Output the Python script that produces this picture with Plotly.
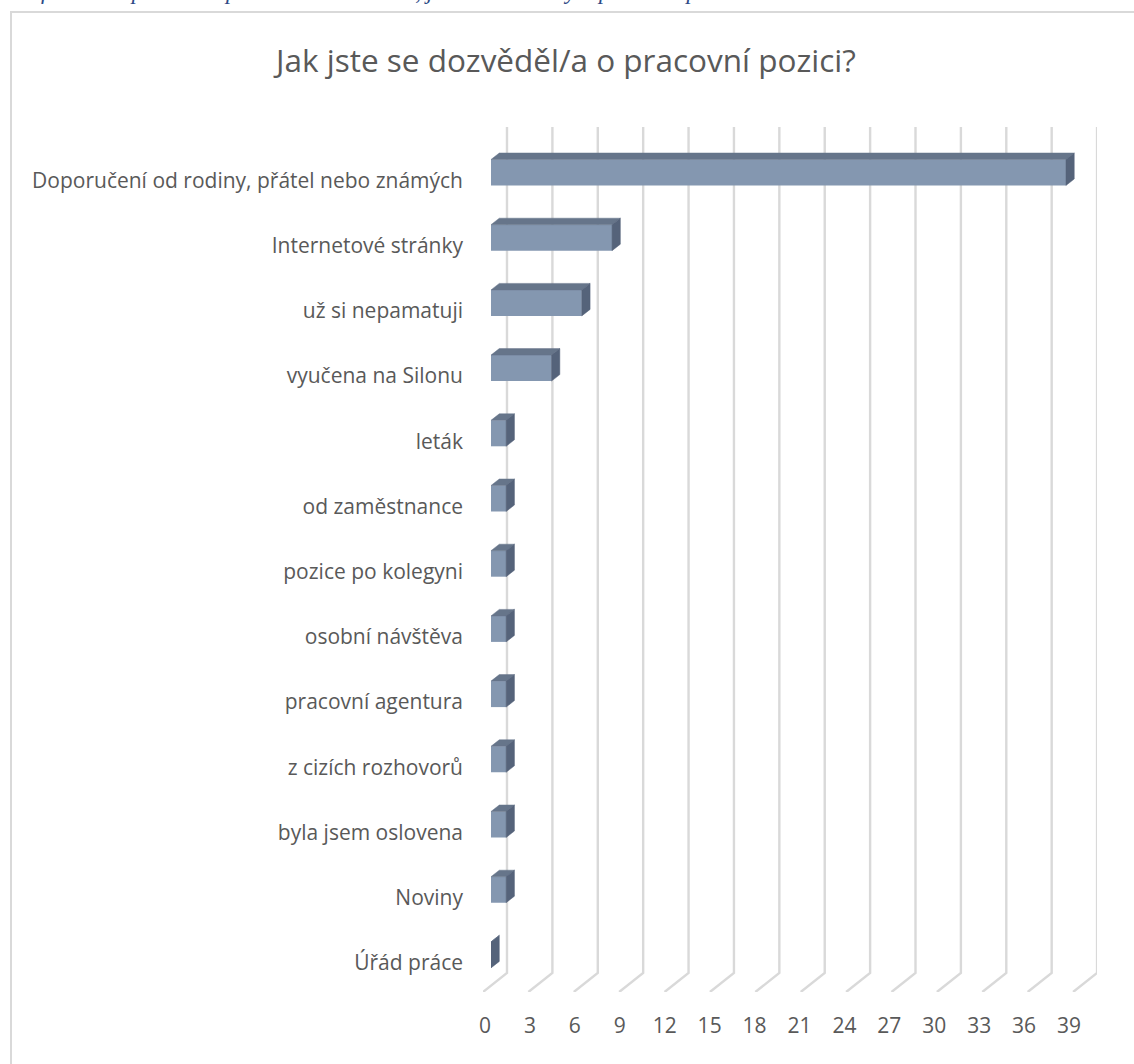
import plotly.graph_objects as go

# ---------------- data ----------------
categories = [
    "Doporučení od rodiny, přátel nebo známých",
    "Internetové stránky",
    "už si nepamatuji",
    "vyučena na Silonu",
    "leták",
    "od zaměstnance",
    "pozice po kolegyni",
    "osobní návštěva",
    "pracovní agentura",
    "z cizích rozhovorů",
    "byla jsem oslovena",
    "Noviny",
    "Úřád práce",
]
values = [38, 8, 6, 4, 1, 1, 1, 1, 1, 1, 1, 1, 0]
tick_values = list(range(0, 40, 3))
tick_labels = [str(t) for t in tick_values]
title_text = "Jak jste se dozvěděl/a o pracovní pozici?"
caption_text = "Graf č. 12 Odpovědi respondentek na otázku, jak se dozvěděly o pracovní pozici"

# ---------------- geometry (pixels) ----------------
W, H = 1134, 1064
XMAX = 39
SCALE = 15.13            # px per unit
BAR_X0 = 491             # front plane of bars
BACK_X0 = 507            # back wall
FLOOR_X0 = 483           # front edge of floor
ROW = 65.2
ROW0 = 172.5             # centre of first row (front face)
LABEL_SHIFT = 8
BACK_BOTTOM = 973
FLOOR_FRONT = 992
WALL_TOP = 127


def px_x(p):
    return p / W


def px_y(p):
    return 1 - p / H


n = len(categories)
rows = list(range(n))
ytop_px = ROW0 - 0.5 * ROW
ybot_px = ROW0 + (n - 0.5) * ROW

fig = go.Figure()

# --- back wall gridlines + floor diagonals (subplot x/y, y in px units) ---
depth_units = (BACK_X0 - FLOOR_X0) / SCALE
gx, gy = [], []
wall_h = BACK_BOTTOM - WALL_TOP
floor_d = FLOOR_FRONT - BACK_BOTTOM
for t in tick_values:
    gx += [t, t, t - depth_units, None]
    gy += [wall_h, 0, -floor_d, None]
fig.add_trace(go.Scatter(x=gx, y=gy, mode="lines", xaxis="x", yaxis="y",
                         line=dict(color="#D9D9D9", width=2.4),
                         hoverinfo="skip", showlegend=False))

# --- bars (subplot x2/y2) ---
bar_w = 26 / ROW
dxu = 8.3 / SCALE
dyu = 6.5 / ROW
fig.add_trace(go.Bar(x=values, y=rows, orientation="h", xaxis="x2", yaxis="y2",
                     width=bar_w, marker=dict(color="#8497B0", line=dict(width=0)),
                     showlegend=False))
tx, ty, sx, sy = [], [], [], []
for v, r in zip(values, rows):
    top = r - bar_w / 2
    bot = r + bar_w / 2
    tx += [0, v, v + dxu, dxu, 0, None]
    ty += [top, top, top - dyu, top - dyu, top, None]
    sx += [v, v + dxu, v + dxu, v, v, None]
    sy += [top, top - dyu, bot - dyu, bot, top, None]
fig.add_trace(go.Scatter(x=tx, y=ty, mode="lines", fill="toself", xaxis="x2", yaxis="y2",
                         fillcolor="#66758A", line=dict(color="#66758A", width=0.5),
                         hoverinfo="skip", showlegend=False))
fig.add_trace(go.Scatter(x=sx, y=sy, mode="lines", fill="toself", xaxis="x2", yaxis="y2",
                         fillcolor="#55637A", line=dict(color="#55637A", width=0.5),
                         hoverinfo="skip", showlegend=False))

# invisible helper traces for label axes
fig.add_trace(go.Scatter(x=[0] * n, y=rows, xaxis="x2", yaxis="y3", mode="markers",
                         marker=dict(opacity=0, size=1), hoverinfo="skip", showlegend=False))
fig.add_trace(go.Scatter(x=tick_values, y=[0] * len(tick_values), xaxis="x3", yaxis="y",
                         mode="markers", marker=dict(opacity=0, size=1),
                         hoverinfo="skip", showlegend=False))

axis_common = dict(showgrid=False, zeroline=False, showline=False, fixedrange=True,
                   automargin=False)
label_font = dict(family="Open Sans, sans-serif", size=21, color="#595959")

fig.update_layout(
    width=W, height=H,
    margin=dict(l=0, r=0, t=0, b=0, pad=0),
    paper_bgcolor="white", plot_bgcolor="rgba(0,0,0,0)",
    xaxis=dict(domain=[px_x(FLOOR_X0), px_x(BACK_X0 + XMAX * SCALE)],
               range=[-depth_units, XMAX], showticklabels=False, anchor="y", **axis_common),
    yaxis=dict(domain=[px_y(FLOOR_FRONT), px_y(WALL_TOP)], range=[-floor_d, wall_h],
               showticklabels=False, anchor="x", **axis_common),
    xaxis2=dict(domain=[px_x(BAR_X0), px_x(BAR_X0 + XMAX * SCALE)], range=[0, XMAX],
                showticklabels=False, anchor="y2", **axis_common),
    yaxis2=dict(domain=[px_y(ybot_px), px_y(ytop_px)], range=[n - 0.5, -0.5],
                showticklabels=False, anchor="x2", **axis_common),
    yaxis3=dict(domain=[px_y(ybot_px + LABEL_SHIFT), px_y(ytop_px + LABEL_SHIFT)],
                range=[n - 0.5, -0.5], anchor="x2", tickmode="array",
                tickvals=rows, ticktext=categories, ticks="", ticklabelstandoff=27,
                tickfont=label_font, **axis_common),
    xaxis3=dict(domain=[px_x(485), px_x(1069)], range=[0, XMAX], anchor="free",
                position=px_y(1011), side="bottom", tickmode="array",
                tickvals=tick_values, ticktext=tick_labels, ticks="",
                tickfont=label_font, **axis_common),
    shapes=[dict(type="rect", xref="paper", yref="paper",
                 x0=px_x(11), x1=px_x(W + 30), y0=px_y(H + 30), y1=px_y(12),
                 line=dict(color="#D9D9D9", width=2), fillcolor="rgba(0,0,0,0)",
                 layer="below")],
    annotations=[
        dict(text=title_text, xref="paper", yref="paper", x=px_x(564), y=px_y(60),
             xanchor="center", yanchor="middle", showarrow=False,
             font=dict(family="Open Sans, sans-serif", size=31.5, color="#595959")),
        dict(text="<i>" + caption_text + "</i>", xref="paper", yref="paper",
             x=px_x(2), y=px_y(6), xanchor="left", yanchor="bottom", showarrow=False,
             font=dict(family="Liberation Serif, serif", size=23, color="#2E4A86")),
    ],
)

fig.write_html("out.html")
